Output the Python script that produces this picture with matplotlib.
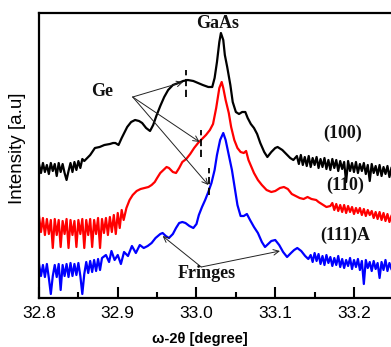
import matplotlib
matplotlib.use("Agg")
from matplotlib import pyplot as plt
from matplotlib.ticker import MultipleLocator, FormatStrFormatter

# (100) curve - black
x_100 = [32.800, 32.8025, 32.805, 32.8075, 32.810, 32.8125, 32.815, 32.8175, 32.820, 32.8225,
         32.825, 32.8275, 32.830, 32.8325, 32.835, 32.8375, 32.840, 32.8425, 32.845, 32.8475,
         32.850, 32.8525, 32.855, 32.8575,
         32.865, 32.871, 32.877, 32.883, 32.890, 32.894, 32.897, 32.901, 32.905, 32.912,
         32.917, 32.922, 32.927, 32.931, 32.936, 32.941, 32.945, 32.949, 32.954, 32.959,
         32.964, 32.970, 32.977, 32.983, 32.989, 32.996, 33.002, 33.008, 33.015, 33.020,
         33.023, 33.026, 33.029, 33.031, 33.034, 33.036, 33.039, 33.043, 33.046, 33.050,
         33.054, 33.058, 33.062, 33.065, 33.069, 33.073, 33.077, 33.081, 33.086, 33.090,
         33.095, 33.100, 33.103, 33.109, 33.114, 33.119, 33.123,
         33.1275, 33.1300, 33.1325, 33.1350, 33.1375, 33.1400, 33.1425, 33.1450, 33.1475, 33.1500,
         33.1525, 33.1550, 33.1575, 33.1600, 33.1625, 33.1650, 33.1675, 33.1700, 33.1725, 33.1750,
         33.1775, 33.1800, 33.1825, 33.1850, 33.1875, 33.1900, 33.1925, 33.1950, 33.1975, 33.2000,
         33.2025, 33.2050, 33.2075, 33.2100, 33.2125, 33.2150, 33.2175, 33.2200, 33.2225, 33.2250,
         33.2275, 33.2300, 33.2325, 33.2350, 33.2375, 33.2400, 33.2425, 33.2450, 33.2475]
y_100 = [134, 125, 135, 126, 133, 124, 135, 127, 134, 122,
         135, 126, 134, 125, 118, 127, 135, 126, 136, 128,
         137, 130, 139, 137,
         143, 150, 151, 153, 154, 155, 155, 153, 160, 171,
         176, 178, 177, 175, 170, 167, 173, 182, 192, 201,
         208, 213, 215, 217, 218, 217, 215, 213, 211, 211,
         220, 236, 256, 265, 258, 243, 231, 213, 196, 186,
         184, 186, 186, 180, 174, 170, 164, 155, 146, 141,
         146, 150, 151, 148, 144, 140, 138,
         142, 134, 143, 133, 141, 132, 142, 131, 140, 133,
         141, 130, 139, 131, 140, 129, 138, 128, 139, 130,
         138, 127, 137, 129, 136, 116, 137, 127, 135, 126,
         136, 125, 134, 127, 135, 124, 133, 117, 134, 125,
         132, 123, 133, 122, 131, 124, 132, 121, 130]

# (110) curve - red
x_110 = [32.800, 32.8025, 32.805, 32.8075, 32.810, 32.8125, 32.815, 32.8175, 32.820, 32.8225,
         32.825, 32.8275, 32.830, 32.8325, 32.835, 32.8375, 32.840, 32.8425, 32.845, 32.8475,
         32.850, 32.8525, 32.855, 32.8575, 32.860, 32.8625, 32.865, 32.8675, 32.870, 32.8725,
         32.875, 32.8775, 32.880, 32.8825, 32.885, 32.8875, 32.890, 32.8925, 32.895, 32.8975,
         32.900, 32.9025, 32.905, 32.9075,
         32.911, 32.915, 32.919, 32.924, 32.929, 32.934, 32.939, 32.943, 32.947, 32.950,
         32.954, 32.958, 32.962, 32.965, 32.970, 32.974, 32.978, 32.982, 32.987, 32.992,
         32.997, 33.002, 33.007, 33.012, 33.017, 33.021, 33.025, 33.029, 33.032, 33.034,
         33.037, 33.041, 33.044, 33.048, 33.052, 33.056, 33.060, 33.063, 33.066, 33.073,
         33.078, 33.083, 33.089, 33.095, 33.100, 33.106, 33.111, 33.116, 33.121, 33.126,
         33.131, 33.136, 33.141, 33.146, 33.152, 33.155, 33.159, 33.165, 33.170,
         33.1725, 33.1750, 33.1775, 33.1800, 33.1825, 33.1850, 33.1875, 33.1900, 33.1925, 33.1950,
         33.1975, 33.2000, 33.2025, 33.2050, 33.2075, 33.2100, 33.2125, 33.2150, 33.2175, 33.2200,
         33.2225, 33.2250, 33.2275, 33.2300, 33.2325, 33.2350, 33.2375, 33.2400, 33.2425, 33.2450,
         33.2475]
y_110 = [82, 66, 80, 63, 79, 64, 78, 50, 79, 63,
         78, 51, 77, 64, 79, 50, 78, 63, 77, 51,
         78, 64, 79, 50, 78, 63, 79, 51, 78, 64,
         80, 50, 79, 65, 80, 63, 81, 66, 83, 64,
         85, 70, 88, 78,
         90, 98, 103, 107, 109, 110, 111, 113, 116, 120,
         125, 128, 131, 130, 126, 125, 130, 136, 139, 144,
         150, 155, 159, 163, 168, 174, 190, 210, 216, 210,
         198, 185, 171, 158, 150, 146, 145, 147, 138, 125,
         118, 113, 108, 106, 107, 110, 111, 109, 104, 102,
         100, 99, 101, 99, 98, 96, 94, 91, 92,
         95, 88, 94, 87, 93, 86, 93, 85, 92, 86,
         91, 84, 90, 85, 90, 83, 89, 82, 88, 83,
         87, 80, 86, 79, 86, 78, 85, 77, 84, 76,
         82]

# (111)A curve - blue
x_111 = [32.800, 32.8025, 32.805, 32.8075, 32.810, 32.8125, 32.815, 32.8175, 32.820, 32.8225,
         32.825, 32.8275, 32.830, 32.8325, 32.835, 32.8375, 32.840, 32.8425, 32.845, 32.8475,
         32.850, 32.8525, 32.855, 32.8575, 32.860, 32.8625, 32.865, 32.8675, 32.870, 32.8725,
         32.875, 32.8775, 32.880,
         32.885, 32.889, 32.892, 32.896, 32.900, 32.904, 32.908, 32.913, 32.918, 32.923,
         32.928, 32.933, 32.938, 32.943, 32.948, 32.954, 32.957, 32.961, 32.965, 32.970,
         32.974, 32.978, 32.982, 32.986, 32.991, 32.996, 33.000, 33.003, 33.007, 33.011,
         33.015, 33.019, 33.023, 33.026, 33.030, 33.034, 33.037, 33.041, 33.045, 33.049,
         33.052, 33.056, 33.060, 33.064, 33.068, 33.073, 33.078, 33.083, 33.087, 33.091,
         33.095, 33.100, 33.105, 33.110, 33.115, 33.120, 33.124, 33.128, 33.133, 33.138, 33.142,
         33.1450, 33.1475, 33.1500, 33.1525, 33.1550, 33.1575, 33.1600, 33.1625, 33.1650, 33.1675,
         33.1700, 33.1725, 33.1750, 33.1775, 33.1800, 33.1825, 33.1850, 33.1875, 33.1900, 33.1925,
         33.1950, 33.1975, 33.2000, 33.2025, 33.2050, 33.2075, 33.2100, 33.2125, 33.2150, 33.2175,
         33.2200, 33.2225, 33.2250, 33.2275, 33.2300, 33.2325, 33.2350, 33.2375, 33.2400, 33.2425,
         33.2450, 33.2475]
y_111 = [34, 22, 33, 21, 34, 20, 4, 22, 33, 21,
         34, 8, 33, 22, 34, 21, 35, 22, 34, 23,
         35, 22, 4, 24, 36, 25, 37, 26, 38, 27,
         39, 28, 40,
         43, 36, 47, 38, 43, 34, 46, 42, 52, 45,
         53, 50, 52, 55, 60, 64, 65, 62, 60, 64,
         70, 75, 76, 75, 72, 70, 74, 83, 91, 98,
         106, 115, 128, 143, 158, 165, 158, 143, 128, 108,
         93, 82, 82, 84, 78, 71, 65, 56, 51, 54,
         57, 58, 53, 46, 41, 45, 48, 50, 47, 42, 39,
         43, 36, 45, 37, 44, 34, 42, 33, 43, 35,
         41, 32, 40, 33, 42, 31, 39, 30, 38, 32,
         40, 29, 38, 31, 39, 28, 37, 14, 38, 30,
         36, 27, 37, 29, 35, 20, 36, 28, 38, 27,
         35, 29]

# vertical dashed markers for Ge peaks: x, y bottom, y top
mark_x = [32.987, 33.006, 33.016]
mark_lo = [201, 141, 103]
mark_hi = [228, 168, 130]

# arrows
ge_from = (32.919, 201)
ge_to = [(32.983, 216), (33.004, 156), (33.015, 113)]
fr_from = (33.006, 31)
fr_to = [(32.957, 62), (33.106, 47)]

fig = plt.figure(figsize=(3.91, 3.47), dpi=100)
ax = fig.add_axes([39 / 391, 1 - 298 / 347, 1 - 39 / 391, 285 / 347])

ax.plot(x_100, y_100, color='black', lw=1.6)
ax.plot(x_110, y_110, color='red', lw=1.6)
ax.plot(x_111, y_111, color='blue', lw=1.6)

ax.vlines(mark_x, mark_lo, mark_hi, colors='black', lw=1.3, linestyles=(0, (4, 2)))

for t in ge_to:
    ax.annotate('', xy=t, xytext=ge_from,
                arrowprops=dict(arrowstyle='->', lw=0.7, color='#222222',
                                shrinkA=0, shrinkB=0, mutation_scale=10))
for t in fr_to:
    ax.annotate('', xy=t, xytext=fr_from,
                arrowprops=dict(arrowstyle='->', lw=0.7, color='#222222',
                                shrinkA=0, shrinkB=0, mutation_scale=10))

serif = dict(family='Liberation Serif', weight='bold', fontsize=13, color='#111111',
             ha='center', va='center')
ax.text(33.027, 274, 'GaAs', **serif)
ax.text(32.880, 207, 'Ge', **serif)
ax.text(33.186, 165, '(100)', **serif)
ax.text(33.189, 113, '(110)', **serif)
ax.text(33.189, 63, '(111)A', **serif)
ax.text(33.013, 25, 'Fringes', **serif)

ax.set_xlim(32.8, 33.247)
ax.set_ylim(0, 285)
ax.xaxis.set_major_locator(MultipleLocator(0.1))
ax.xaxis.set_minor_locator(MultipleLocator(0.05))
ax.xaxis.set_major_formatter(FormatStrFormatter('%.1f'))
ax.tick_params(axis='x', which='major', direction='in', length=8, width=1.5, pad=6,
               labelsize=12.5, top=False)
ax.tick_params(axis='x', which='minor', direction='in', length=4.5, width=1.5, top=False)
ax.set_yticks([])
for lbl in ax.get_xticklabels():
    lbl.set_family('Liberation Sans')

for s in ['left', 'bottom', 'top']:
    ax.spines[s].set_linewidth(1.6)
ax.spines['right'].set_visible(False)

fig.text(200 / 391, 1 - 339 / 347, 'ω-2θ [degree]', ha='center', va='center',
         fontsize=10.5, weight='bold', family='Liberation Sans')
fig.text(18 / 391, 1 - 148 / 347, 'Intensity [a.u]', ha='center', va='center',
         rotation=90, fontsize=13.5, family='Liberation Sans')

fig.savefig('out.png', dpi=100)
